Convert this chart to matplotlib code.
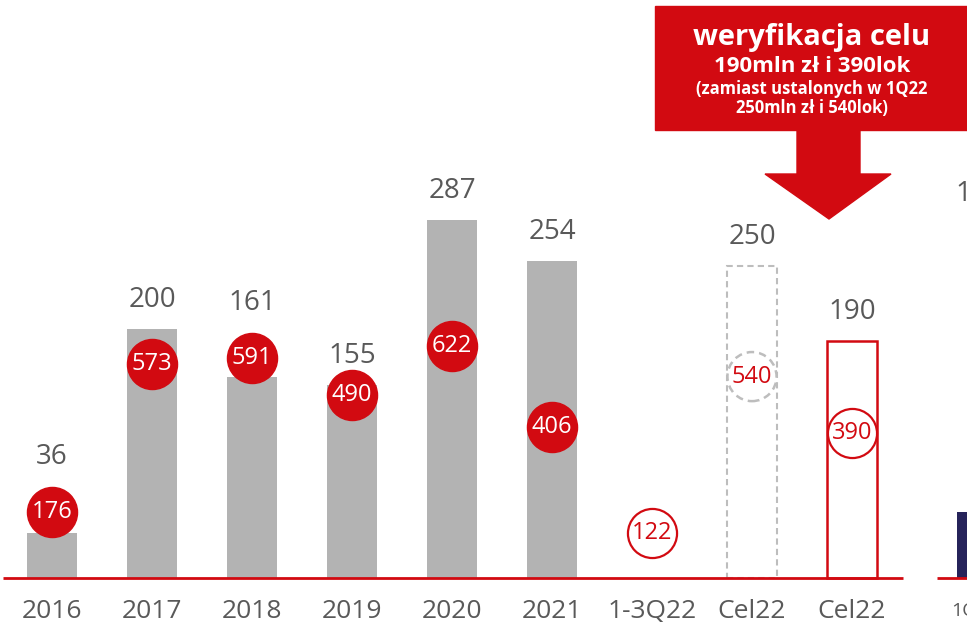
import matplotlib.pyplot as plt
from matplotlib.patches import Rectangle, Polygon

plt.rcParams['font.family'] = ['Open Sans', 'DejaVu Sans']

categories = ["2016", "2017", "2018", "2019", "2020", "2021", "1-3Q22", "Cel22", "Cel22"]
revenue = [36, 200, 161, 155, 287, 254, None, 250, 190]   # mln zł
units = [176, 573, 591, 490, 622, 406, 122, 540, 390]      # lok
bar_style = ["solid"] * 6 + [None, "dashed", "outline"]
dot_style = ["filled"] * 6 + ["outline", "dashed", "outline"]

# cut-off piece of the neighbouring chart on the right edge
next_value = 53
next_top_label = "1"
next_category = "1Q22"

RED = "#d20a11"
GRAY = "#b3b3b3"
TXT = "#595959"
NAVY = "#26235a"

W, H = 967, 628


def fp(x, y):
    # pixel (from top-left) -> figure fraction
    return x / W, 1 - y / H


fig = plt.figure(figsize=(W / 100, H / 100), dpi=100)
ax = fig.add_axes([0, 0, 1, 1])
ax.set_xlim(-0.52, 9.15)
ax.set_ylim(-40.1, 463.5)
ax2 = ax.twinx()
ax2.set_ylim(-134, 1549.6)
ax.axis("off")
ax2.axis("off")

# px per unit on both scales, used to keep labels clear of the circles
k1 = H / (463.5 + 40.1)
k2 = H / (1549.6 + 134)
r_px = 25

for i, (v, st) in enumerate(zip(revenue, bar_style)):
    if v is None:
        continue
    if st == "solid":
        ax.bar(i, v, width=0.5, color=GRAY, zorder=2)
    elif st == "dashed":
        ax.bar(i, v, width=0.5, facecolor="none", edgecolor="#bdbdbd",
               linestyle=(0, (3, 2)), linewidth=1.5, zorder=2)
    else:
        ax.bar(i, v, width=0.5, facecolor="white", edgecolor=RED,
               linewidth=1.8, zorder=2)
    bar_top = v * k1
    dot_c = units[i] * k2
    if dot_c > bar_top:
        ylab = (dot_c + r_px + 30) / k1
    else:
        ylab = (bar_top + 29) / k1
    ax.text(i, ylab, str(v), ha="center", va="center", fontsize=20, color=TXT)

ax.plot([-0.49, 8.51], [0, 0], color=RED, lw=2, zorder=3, solid_capstyle="butt")

for i, (u, st) in enumerate(zip(units, dot_style)):
    if st == "filled":
        ax2.scatter(i, u, s=1300, color=RED, zorder=4)
        c = "white"
    elif st == "outline":
        ax2.scatter(i, u, s=1250, facecolor="white", edgecolor=RED,
                    linewidth=1.6, zorder=4)
        c = RED
    else:
        ax2.scatter(i, u, s=1250, facecolor="white", edgecolor="#bdbdbd",
                    linewidth=1.8, linestyle=(0, (3, 2)), zorder=4)
        c = RED
    ax2.text(i, u, str(u), ha="center", va="center", fontsize=17, color=c, zorder=5)

for i, cat in enumerate(categories):
    ax.text(i, 0.027, cat, ha="center", va="center", fontsize=19, color=TXT,
            transform=ax.get_xaxis_transform())

# neighbouring chart fragment
ax.plot([8.85, 9.2], [0, 0], color=RED, lw=2, zorder=3, solid_capstyle="butt")
ax.bar(9.05, next_value, width=0.5, align="edge", color=NAVY, zorder=2)
ax.text(9.03, (578 - 194) / k1, next_top_label, ha="left",
        va="center", fontsize=20, color=TXT)
ax.text(8.99, 0.027, next_category, ha="left", va="center", fontsize=14,
        color=TXT, transform=ax.get_xaxis_transform())

# callout box and arrow
x0, y0 = fp(655, 130)
x1, y1 = fp(967, 6)
fig.patches.append(Rectangle((x0, y0), x1 - x0, y1 - y0, transform=fig.transFigure,
                             color=RED, zorder=6))
arrow = [fp(797, 128), fp(860, 128), fp(860, 174), fp(891, 174), fp(829, 219),
         fp(765, 174), fp(797, 174)]
fig.patches.append(Polygon(arrow, closed=True, transform=fig.transFigure,
                           color=RED, zorder=6))

tx = 812 / W
fig.text(tx, 1 - 38 / H, "weryfikacja celu", ha="center", va="center",
         fontsize=21, fontweight="bold", color="white", zorder=7)
fig.text(tx, 1 - 66 / H, "190mln zł i 390lok", ha="center", va="center",
         fontsize=16, fontweight="bold", color="white", zorder=7)
fig.text(tx, 1 - 89 / H, "(zamiast ustalonych w 1Q22", ha="center", va="center",
         fontsize=12, fontweight="bold", color="white", zorder=7)
fig.text(tx, 1 - 108 / H, "250mln zł i 540lok)", ha="center", va="center",
         fontsize=12, fontweight="bold", color="white", zorder=7)

fig.savefig("out.png", dpi=100)
